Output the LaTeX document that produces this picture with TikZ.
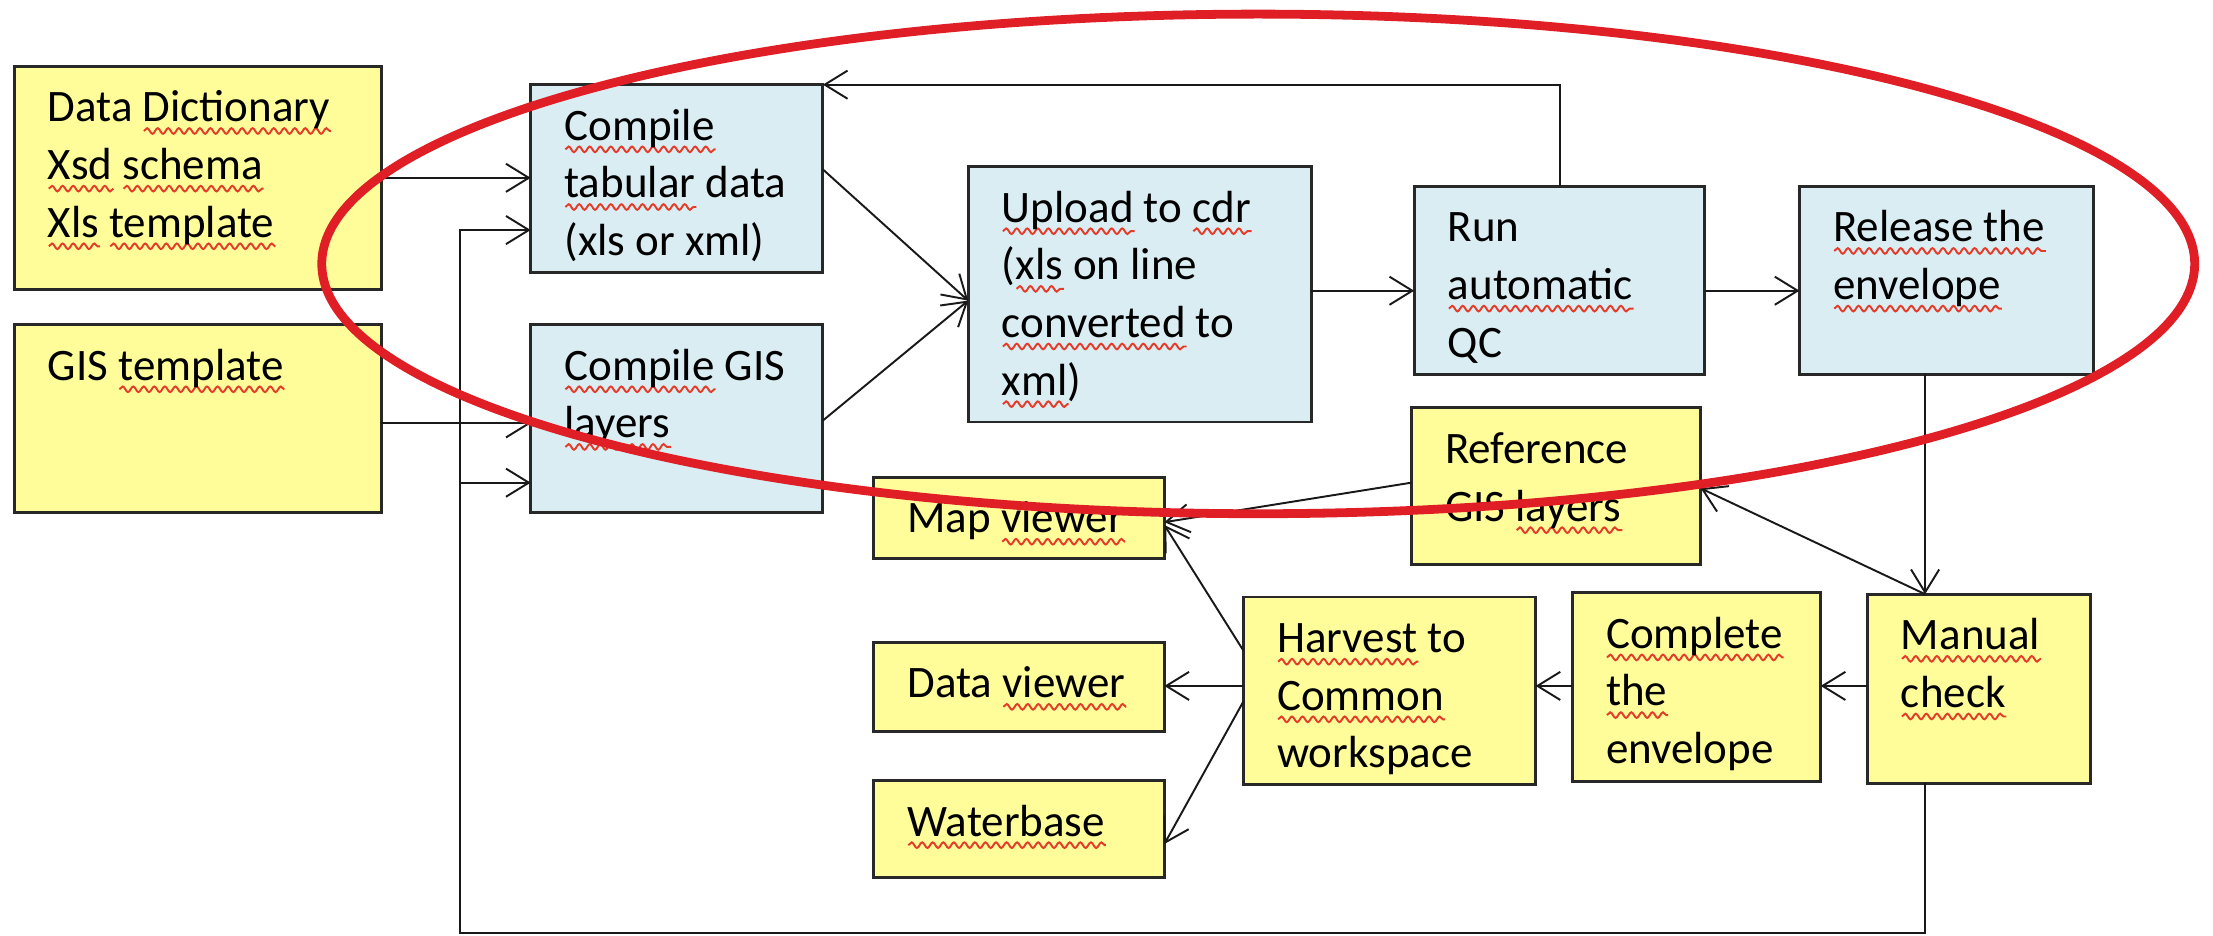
\documentclass[tikz,border=0pt]{standalone}
\usepackage{fontspec}
\setmainfont{Carlito}
\usetikzlibrary{arrows.meta,decorations.pathmorphing}
\definecolor{boxyellow}{RGB}{255,253,153}
\definecolor{boxblue}{RGB}{218,237,243}
\definecolor{ellred}{RGB}{224,30,38}
\definecolor{sqred}{RGB}{228,60,40}
\definecolor{edge}{RGB}{40,40,40}
\newlength\sqw
\newcommand\sq[1]{\settowidth\sqw{#1}\leavevmode\rlap{\raisebox{-2.6pt}{\tikz[x=1pt,y=1pt,baseline=0pt]\draw[sqred,line width=0.55pt,decorate,decoration={snake,amplitude=0.8pt,segment length=3pt}] (0,0) -- (\sqw,0);}}#1}
\newdimen\pxu \pxu=0.40155pt
\newdimen\padx \padx=9.6pt
\newdimen\firstbl \firstbl=15.8pt
\newcommand\mkbox[7]{%
  \pgfmathsetlengthmacro\bw{(#5-#3)*\pxu}%
  \pgfmathsetlengthmacro\bh{(#6-#4)*\pxu}%
  \node[#2, minimum width=\bw, minimum height=\bh, anchor=north west] (#1) at (#3,#4)
    {\parbox[c][\bh][t]{\bw}{\raggedright\leftskip=\padx\rule{0pt}{\firstbl}#7}};%
}
\tikzset{
  boxbase/.style={draw=edge, line width=0.85pt, inner sep=0pt, outer sep=0pt,
    font=\fontsize{12.8pt}{16.4pt}\selectfont},
  ybox/.style={boxbase, fill=boxyellow},
  bbox/.style={boxbase, fill=boxblue},
  arr/.style={draw=black!90, line width=0.55pt, -{Straight Barb[length=6.5pt,width=8pt]}},
  ring/.style={draw=ellred, line width=2.5pt}
}
\begin{document}
\begin{tikzpicture}[x=0.14113mm, y=-0.14113mm]
\useasboundingbox (0,0) rectangle (1568,663);
\fill[white] (0,0) rectangle (1568,663);
% boxes
\mkbox{dd}{ybox}{10}{47}{270}{205}{Data \sq{Dictionary}\\\sq{Xsd} \sq{schema}\\\sq{Xls} \sq{template}}
\mkbox{gt}{ybox}{10}{230}{270}{363}{GIS \sq{template}}
\mkbox{tab}{bbox}{376}{60}{583}{193}{\sq{Compile}\\\sq{tabular} data\\(xls or xml)}
\mkbox{gis}{bbox}{376}{230}{583}{363}{\sq{Compile} GIS\\\sq{layers}}
\mkbox{up}{bbox}{686}{118}{929}{299}{\sq{Upload} to \sq{cdr}\\(\sq{xls} on line\\\sq{converted} to\\\sq{xml})}
\mkbox{qc}{bbox}{1002}{132}{1208}{265}{Run\\\sq{automatic}\\QC}
\mkbox{rel}{bbox}{1275}{132}{1483}{265}{\sq{Release the}\\\sq{envelope}}
\mkbox{ref}{ybox}{1000}{289}{1205}{400}{Reference\\GIS \sq{layers}}
\mkbox{map}{ybox}{619}{338}{825}{396}{Map \sq{viewer}}
\mkbox{dv}{ybox}{619}{455}{825}{518}{Data \sq{viewer}}
\mkbox{wb}{ybox}{619}{553}{825}{622}{\sq{Waterbase}}
\mkbox{hv}{ybox}{881}{423}{1088}{556}{\sq{Harvest} to\\\sq{Common}\\workspace}
\mkbox{ce}{ybox}{1114}{420}{1290}{554}{\sq{Complete}\\\sq{the}\\envelope}
\mkbox{mc}{ybox}{1323}{421}{1481}{555}{\sq{Manual}\\\sq{check}}
% connectors
\coordinate (fbc) at (326,661);
\coordinate (fbg) at (326,342);
\draw[arr] (dd.east) -- (tab.west |- dd.east);
\draw[arr] (gt.east |- 0,300) -- (gis.west |- 0,300);
\draw[arr] (mc.south -| 1364,0) |- (fbc) |- (tab.west |- 0,163);
\draw[arr] (fbg) -- (gis.west |- fbg);
\draw[arr] (tab.east |- 0,120) -- (up.west |- 0,213);
\draw[arr] (gis.east |- 0,298) -- (up.west |- 0,213);
\draw[arr] (up.east |- 0,206) -- (qc.west |- 0,206);
\draw[arr] (qc.east |- 0,206) -- (rel.west |- 0,206);
\draw[arr] (qc.north) |- (tab.north east);
\draw[arr] (rel.south -| 1364,0) -- (mc.north -| 1364,0);
\draw[arr] (mc.north -| 1364,0) -- (ref.east |- 0,346);
\draw[arr] (ref.west |- 0,342) -- (map.east |- 0,370);
\draw[arr] (hv.west |- 0,461) -- (map.east |- 0,372);
\draw[arr] (hv.west |- 0,486) -- (dv.east |- 0,486);
\draw[arr] (hv.west |- 0,497) -- (wb.east |- 0,598);
\draw[arr] (ce.west |- 0,486) -- (hv.east |- 0,486);
\draw[arr] (mc.west |- 0,486) -- (ce.east |- 0,486);
% red ellipse
\draw[ring] (891.5,187) ellipse [x radius=663.5, y radius=177];
\end{tikzpicture}
\end{document}
